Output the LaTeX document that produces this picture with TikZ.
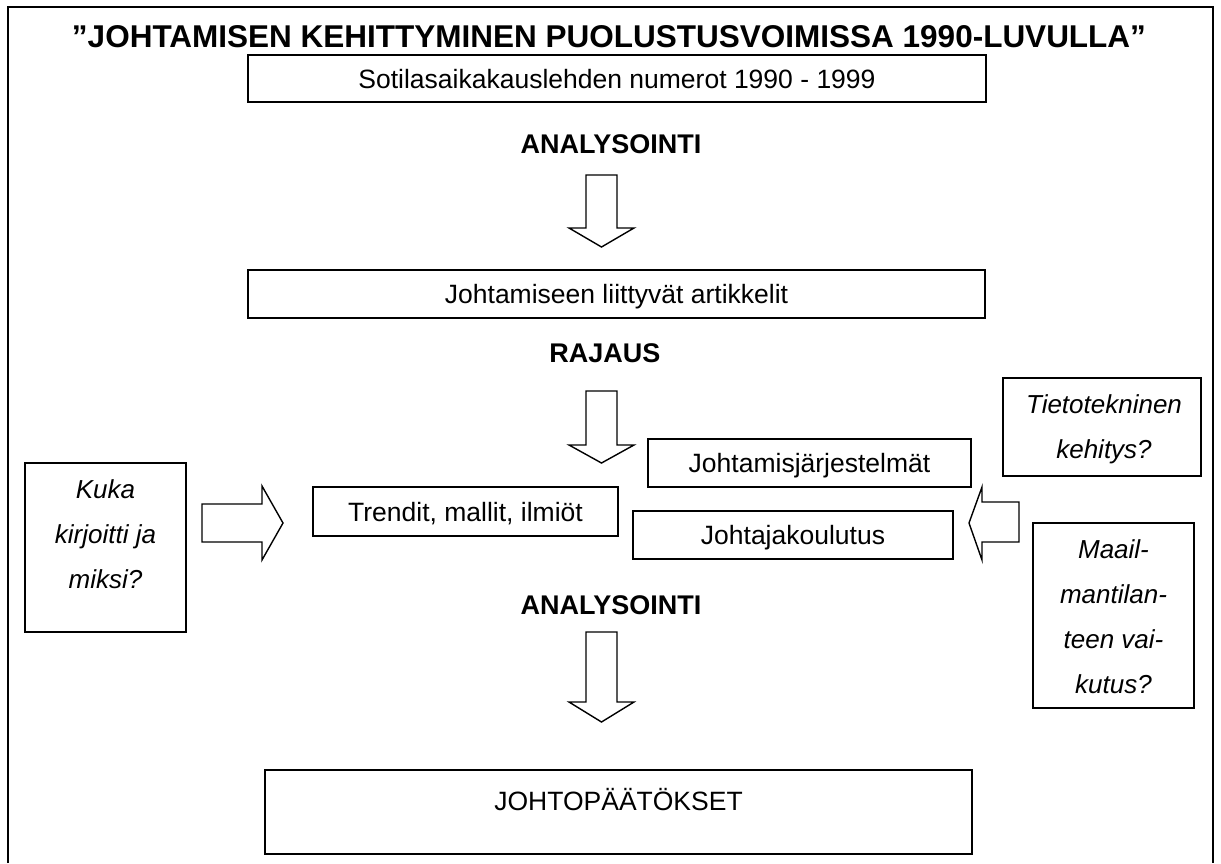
\documentclass[tikz,border=0pt]{standalone}
\usepackage{fontspec}
\setmainfont{Liberation Sans}
\newcommand\bodyf{\fontsize{26.5}{30}\selectfont}
\newcommand\boldf{\fontsize{27}{30}\selectfont\bfseries}
\newcommand\titlef{\fontsize{31.5}{36}\selectfont\bfseries}
\newcommand\itf{\fontsize{26}{45}\selectfont\itshape}
\newcommand\dnarrow[4]{\draw[blockarrow] (#1-15.5,#2) -- (#1+15.5,#2) -- (#1+15.5,#3) -- (#1+32.5,#3) -- (#1,#4) -- (#1-32.5,#3) -- (#1-15.5,#3) -- cycle;}
\begin{document}
\begin{tikzpicture}[x=1pt,y=-1pt,
  every node/.style={inner sep=0pt, outer sep=0pt},
  box/.style={draw, line width=1.4pt, text height=19pt, text depth=0pt, font=\bodyf},
  ibox/.style={draw, line width=1.4pt},
  itext/.style={font=\itf, align=center, anchor=north},
  headtxt/.style={font=\boldf, anchor=base},
  blockarrow/.style={draw, line width=1.4pt, line join=miter, fill=white},
]
\useasboundingbox (0,0) rectangle (1221,863);
\fill[white] (0,0) rectangle (1221,863);
% outer frame
\draw[line width=1.6pt] (8,863) -- (8,7) -- (1213,7) -- (1213,863);
% title
\node[font=\titlef, anchor=base] (title) at (609,47) {”JOHTAMISEN KEHITTYMINEN PUOLUSTUSVOIMISSA 1990-LUVULLA”};
% main column
\node[box, minimum width=738pt, minimum height=47pt] (src) at (617,78.5) {Sotilasaikakauslehden numerot 1990 - 1999};
\node[headtxt] (an1) at (611,153) {ANALYSOINTI};
\dnarrow{601.5}{175}{228}{247}
\node[box, minimum width=737pt, minimum height=48pt] (art) at (616.5,294) {Johtamiseen liittyvät artikkelit};
\node[headtxt] (raj) at (605,362) {RAJAUS};
\dnarrow{601.5}{391}{445}{463}
\node[box, minimum width=305pt, minimum height=49pt] (trend) at (465.5,511.5) {Trendit, mallit, ilmiöt};
\node[box, minimum width=323pt, minimum height=48pt] (jarj) at (809.5,463) {Johtamisjärjestelmät};
\node[box, minimum width=320pt, minimum height=48pt] (koul) at (793,535) {Johtajakoulutus};
\node[headtxt] (an2) at (611,614) {ANALYSOINTI};
\dnarrow{601.5}{632}{702}{722}
\node[box, text depth=22.6pt, minimum width=707pt, minimum height=84pt] (conc) at (618.5,812) {JOHTOPÄÄTÖKSET};
% side boxes
\node[ibox, minimum width=161pt, minimum height=169pt] (kuka) at (105.5,547.5) {};
\node[itext] (kukatxt) at (105.5,479.3) {Kuka\\kirjoitti ja\\miksi?};
\node[ibox, minimum width=198pt, minimum height=98pt] (tieto) at (1102,427) {};
\node[itext] (tietotxt) at (1104,394.3) {Tietotekninen\\kehitys?};
\node[ibox, minimum width=161pt, minimum height=185pt] (maail) at (1113.5,615.5) {};
\node[itext] (maailtxt) at (1113.5,539.3) {Maail-\\mantilan-\\teen vai-\\kutus?};
% side block arrows
\draw[blockarrow] (202,504) -- (262,504) -- (262,486) -- (283,523) -- (262,560) -- (262,542) -- (202,542) -- cycle;
\draw[blockarrow] (1019,502) -- (982,502) -- (982,487) -- (969,523) -- (982,560) -- (982,542) -- (1019,542) -- cycle;
\end{tikzpicture}
\end{document}
